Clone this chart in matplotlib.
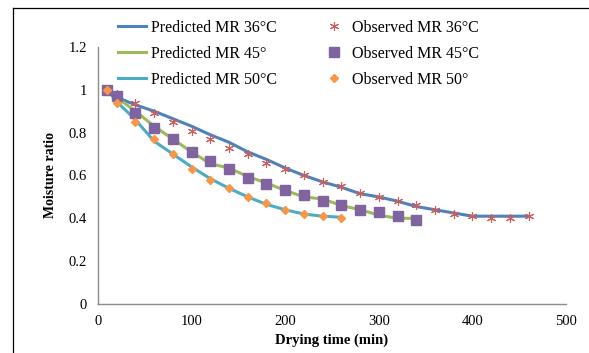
import matplotlib
matplotlib.use("Agg")
import matplotlib.pyplot as plt
from matplotlib.lines import Line2D

# drying time (min)
time_36 = [10, 20, 40, 60, 80, 100, 120, 140, 160, 180, 200, 220, 240, 260,
           280, 300, 320, 340, 360, 380, 400, 420, 440, 460]
time_45 = time_36[:18]
time_50 = time_36[:14]

# observed moisture ratio
obs_36 = [1.0, 0.98, 0.94, 0.89, 0.85, 0.81, 0.77, 0.73, 0.70, 0.66, 0.63, 0.60,
          0.57, 0.55, 0.52, 0.50, 0.48, 0.46, 0.44, 0.42, 0.41, 0.40, 0.40, 0.41]
obs_45 = [1.0, 0.97, 0.89, 0.82, 0.77, 0.71, 0.67, 0.63, 0.59, 0.56, 0.53, 0.51,
          0.48, 0.46, 0.44, 0.43, 0.41, 0.39]
obs_50 = [1.0, 0.94, 0.85, 0.77, 0.70, 0.63, 0.58, 0.54, 0.50, 0.47, 0.44, 0.42,
          0.41, 0.40]

# predicted moisture ratio
pred_36 = [1.0, 0.965, 0.93, 0.90, 0.865, 0.83, 0.79, 0.755, 0.71, 0.675, 0.635, 0.60,
           0.57, 0.545, 0.515, 0.50, 0.48, 0.455, 0.44, 0.425, 0.41, 0.41, 0.41, 0.41]
pred_45 = [1.0, 0.965, 0.90, 0.83, 0.77, 0.71, 0.655, 0.635, 0.595, 0.565, 0.53, 0.50,
           0.49, 0.46, 0.44, 0.415, 0.40, 0.40]
pred_50 = [1.0, 0.945, 0.86, 0.76, 0.70, 0.64, 0.585, 0.54, 0.50, 0.465, 0.44, 0.42,
           0.41, 0.405]

x_ticks = [0, 100, 200, 300, 400, 500]
y_ticks = [0, 0.2, 0.4, 0.6, 0.8, 1.0, 1.2]
y_tick_labels = ["0", "0.2", "0.4", "0.6", "0.8", "1", "1.2"]

plt.rcParams['font.family'] = ['Liberation Serif', 'DejaVu Serif']

fig = plt.figure(figsize=(5.89, 3.53), dpi=100)
ax = fig.add_axes([0.1664, 0.1388, 0.7946, 0.7281])

# outer frame (only left and top edges visible)
fig.add_artist(Line2D([13 / 589, 13 / 589], [0, 1 - 8 / 353], color="black", lw=0.9,
                      transform=fig.transFigure))
fig.add_artist(Line2D([13 / 589, 1], [1 - 8 / 353, 1 - 8 / 353], color="black", lw=0.9,
                      transform=fig.transFigure))

lw = 2.2
p36, = ax.plot(time_36, pred_36, color="#4F81BD", lw=lw, solid_joinstyle="round",
               label="Predicted MR 36°C", zorder=2)
p45, = ax.plot(time_45, pred_45, color="#9BBB59", lw=lw, solid_joinstyle="round",
               label="Predicted MR 45°", zorder=2)
p50, = ax.plot(time_50, pred_50, color="#4BACC6", lw=lw, solid_joinstyle="round",
               label="Predicted MR 50°C", zorder=2)
o36, = ax.plot(time_36, obs_36, ls="none", marker=(6, 2, 0), markersize=6.5,
               markeredgecolor="#C9605D", markeredgewidth=0.8,
               label="Observed MR 36°C", zorder=3)
o45, = ax.plot(time_45, obs_45, ls="none", marker="s", markersize=6.8,
               color="#8064A2", markeredgecolor="#8064A2",
               label="Observed MR 45°C", zorder=3)
o50, = ax.plot(time_50, obs_50, ls="none", marker="D", markersize=4.5,
               color="#F79646", markeredgecolor="#F79646",
               label="Observed MR 50°", zorder=4)

ax.set_xlim(0, 500)
ax.set_ylim(0, 1.2)
ax.set_xticks(x_ticks)
ax.set_yticks(y_ticks)
ax.set_yticklabels(y_tick_labels)
ax.tick_params(length=0, labelsize=10.5, pad=8)
for s in ["top", "right"]:
    ax.spines[s].set_visible(False)
for s in ["left", "bottom"]:
    ax.spines[s].set_color("#8C8C8C")
    ax.spines[s].set_linewidth(1.0)

ax.set_xlabel("Drying time (min)", fontsize=10.5, fontweight="bold", labelpad=4)
ax.set_ylabel("Moisture ratio", fontsize=10, fontweight="bold", labelpad=8)

fig.legend(handles=[p36, p45, p50, o36, o45, o50], ncol=2, frameon=False,
           loc="center", bbox_to_anchor=(0.507, 0.848), fontsize=11.5,
           handlelength=1.75, handletextpad=0.3, columnspacing=2.7,
           labelspacing=0.62)

fig.savefig("out.png", dpi=100)
